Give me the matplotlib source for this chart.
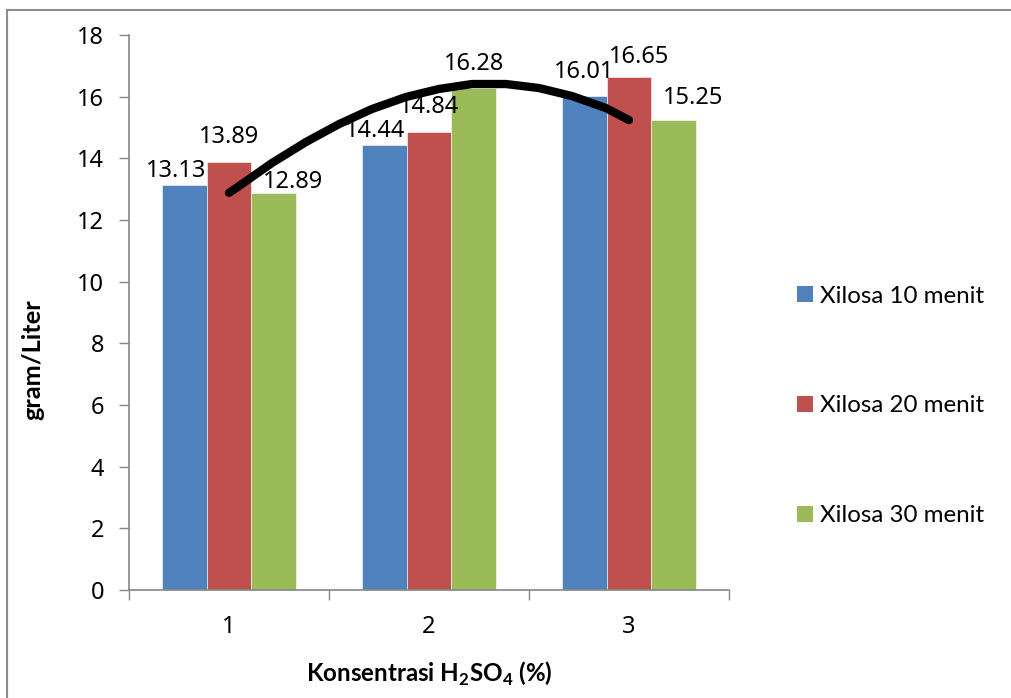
import matplotlib
matplotlib.use("Agg")
import matplotlib.pyplot as plt
from matplotlib.patches import Rectangle, Patch
import numpy as np

plt.rcParams['font.family'] = ['Lato', 'DejaVu Sans']
plt.rcParams['mathtext.fontset'] = 'custom'
plt.rcParams['mathtext.rm'] = 'Lato'
plt.rcParams['mathtext.bf'] = 'Lato:bold'

# data
categories = ['1', '2', '3']
series_names = ['Xilosa 10 menit', 'Xilosa 20 menit', 'Xilosa 30 menit']
xilosa_10 = [13.13, 14.44, 16.01]
xilosa_20 = [13.89, 14.84, 16.65]
xilosa_30 = [12.89, 16.28, 15.25]
colors = ['#4F81BD', '#C0504D', '#9BBB59']

# label nudges as placed in the original (pixels: dx, gap above bar)
label_nudge = [
    [(-8, 8), (-9, 8), (0, 18)],
    [(0, 19), (0, 19), (10, 14)],
    [(20, 5), (1, 18), (20, 16)],
]

# hand drawn trend arc (category index, g/L)
arc_x = [0.0, 0.05, 0.215, 0.385, 0.55, 0.715, 0.885, 1.05, 1.215, 1.385, 1.55, 1.715, 1.885, 2.0]
arc_y = [12.88, 13.10, 13.85, 14.53, 15.11, 15.60, 15.99, 16.25, 16.41, 16.41, 16.28, 16.02, 15.63, 15.24]

num_font = ['Noto Sans', 'DejaVu Sans']

fig = plt.figure(figsize=(10.12, 6.98), dpi=100)
ax = fig.add_axes([129 / 1012, 1 - 590 / 698, 600 / 1012, 555 / 698])

x = np.arange(len(categories))
w = 1 / 4.5
for i, vals in enumerate([xilosa_10, xilosa_20, xilosa_30]):
    pos = x + (i - 1) * w
    ax.bar(pos, vals, width=w, color=colors[i], edgecolor='white', linewidth=0.4)
    for j, (p, v) in enumerate(zip(pos, vals)):
        dx, dy = label_nudge[i][j]
        ax.annotate(f'{v:.2f}', (p, v), xytext=(dx, dy), textcoords='offset pixels',
                    ha='center', va='baseline', fontsize=17, family=num_font)

ax.plot(arc_x, arc_y, color='black', lw=6, solid_capstyle='round', solid_joinstyle='round', zorder=5)

ax.set_xlim(-0.5, 2.5)
ax.set_ylim(0, 18)
ax.set_yticks(range(0, 19, 2))
ax.set_xticks(x)
ax.set_xticklabels(categories)
ax.set_xticks([-0.5, 0.5, 1.5, 2.5], minor=True)
ax.tick_params(axis='x', which='major', length=0, pad=18)
ax.tick_params(axis='x', which='minor', length=7, color='#868686', width=1)
ax.tick_params(axis='y', length=7, color='#868686', width=1, pad=11)
for lab in ax.get_xticklabels() + ax.get_yticklabels():
    lab.set_family(num_font)
    lab.set_fontsize(17)
for s in ['top', 'right']:
    ax.spines[s].set_visible(False)
for s in ['left', 'bottom']:
    ax.spines[s].set_color('#868686')
    ax.spines[s].set_linewidth(1.2)

fig.text(429 / 1012, 1 - 682 / 698, 'Konsentrasi H$_\\mathbf{2}$SO$_\\mathbf{4}$ (%)',
         fontsize=17.4, fontweight='bold', ha='center', va='baseline')
fig.text(33 / 1012, 1 - 360 / 698, 'gram/Liter', fontsize=18.3, fontweight='bold',
         rotation=90, ha='center', va='center')

handles = [Patch(facecolor=c) for c in colors]
fig.legend(handles, series_names, loc='center left', bbox_to_anchor=(797 / 1012, 1 - 406 / 698),
           frameon=False, fontsize=17.4, handlelength=0.66, handleheight=0.66, handletextpad=0.3,
           labelspacing=3.68, borderpad=0, borderaxespad=0)

# outer chart frame (runs off the right and bottom edges)
fig.patches.append(Rectangle((7 / 1012, -0.1), 1.2, 1.1 - 10 / 698, transform=fig.transFigure,
                             fill=False, edgecolor='#8c8c8c', linewidth=1.5))

fig.savefig('out.png', dpi=100)
